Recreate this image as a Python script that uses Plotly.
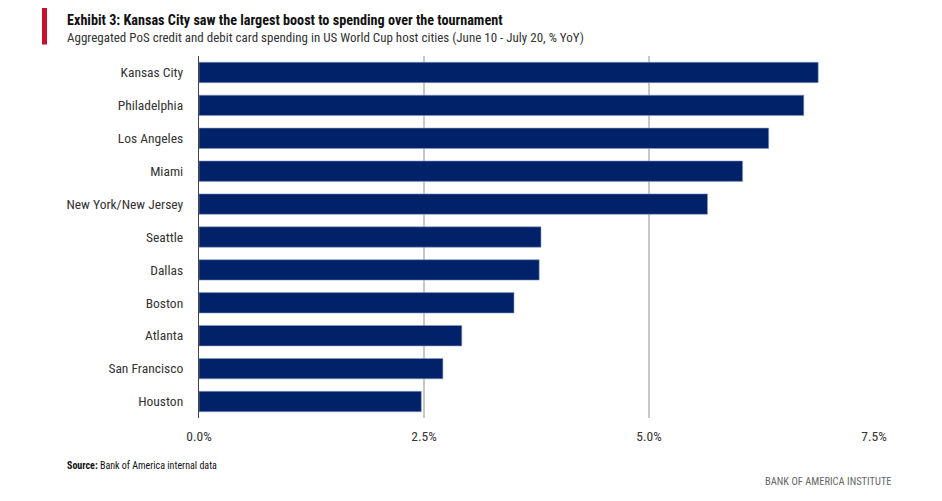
import plotly.graph_objects as go

# Dados: gasto PoS (% YoY) nas cidades-sede
cidades = [
    'Kansas City', 'Philadelphia', 'Los Angeles', 'Miami', 'New York/New Jersey',
    'Seattle', 'Dallas', 'Boston', 'Atlanta', 'San Francisco', 'Houston'
]
gasto_yoy = [6.88, 6.72, 6.33, 6.04, 5.65, 3.80, 3.78, 3.50, 2.92, 2.71, 2.47]
ticks_x = [0, 2.5, 5.0, 7.5]
ticks_x_labels = ['0.0%', '2.5%', '5.0%', '7.5%']

FONTE = 'Liberation Sans Narrow, Roboto Condensed, Arial Narrow, sans-serif'
AZUL = '#012169'
TEXTO = '#333333'

# a página tem margem de 8px: coordenadas do desenho = referência - 8
OFF = 8
L, R, T, B = 199 - OFF, 874 - OFF, 55.5 - OFF, 418.5 - OFF
PW, PH = R - L, B - T


def px(x):
    return (x - OFF - L) / PW


def py(y):
    return (B - (y - OFF)) / PH


fig = go.Figure()

fig.add_trace(go.Bar(
    x=gasto_yoy,
    y=cidades,
    orientation='h',
    width=0.62,
    marker=dict(color=AZUL, line=dict(color='#8a9cc4', width=0.6)),
    hovertemplate='%{y}: %{x:.1f}%<extra></extra>'
))

fig.update_layout(
    width=942 - OFF,
    height=501 - OFF,
    plot_bgcolor='white',
    paper_bgcolor='white',
    font=dict(family=FONTE, color=TEXTO, size=13.5),
    showlegend=False,
    margin=dict(t=T, l=L, r=942 - OFF - R, b=501 - OFF - B, pad=0),
)

fig.update_xaxes(
    range=[0, 7.5],
    tickvals=ticks_x,
    ticktext=ticks_x_labels,
    showgrid=True,
    gridcolor='#c8c8c8',
    gridwidth=1.5,
    zeroline=False,
    showline=False,
    tickfont=dict(size=13.5, color=TEXTO),
    ticks='',
    ticklabelstandoff=8,
)
fig.update_yaxes(
    autorange='reversed',
    showline=True,
    linecolor='#444444',
    linewidth=1.2,
    ticks='',
    ticklabelstandoff=12,
    tickfont=dict(size=13.5, color=TEXTO),
)

# Barra vermelha do título
fig.add_shape(
    type='rect', xref='paper', yref='paper',
    x0=px(42), x1=px(47), y0=py(44), y1=py(6),
    fillcolor='#c8102e', line=dict(width=0),
)

fig.add_annotation(
    text='<b>Exhibit 3: Kansas City saw the largest boost to spending over the tournament</b>',
    xref='paper', yref='paper',
    x=px(65), y=py(9),
    xanchor='left', yanchor='top', showarrow=False,
    font=dict(size=14.2, color='#111111', family=FONTE),
)
fig.add_annotation(
    text='Aggregated PoS credit and debit card spending in US World Cup host cities (June 10 - July 20, % YoY)',
    xref='paper', yref='paper',
    x=px(65), y=py(27),
    xanchor='left', yanchor='top', showarrow=False,
    font=dict(size=13, color=TEXTO, family=FONTE),
)
fig.add_annotation(
    text='<b>Source:</b> Bank of America internal data',
    xref='paper', yref='paper',
    x=px(65), y=py(459),
    xanchor='left', yanchor='top', showarrow=False,
    font=dict(size=10, color='#111111', family=FONTE),
)
fig.add_annotation(
    text='BANK OF AMERICA INSTITUTE',
    xref='paper', yref='paper',
    x=px(894), y=py(474),
    xanchor='right', yanchor='top', showarrow=False,
    font=dict(size=10.5, color='#666666', family=FONTE),
)

fig.write_html('out.html')
